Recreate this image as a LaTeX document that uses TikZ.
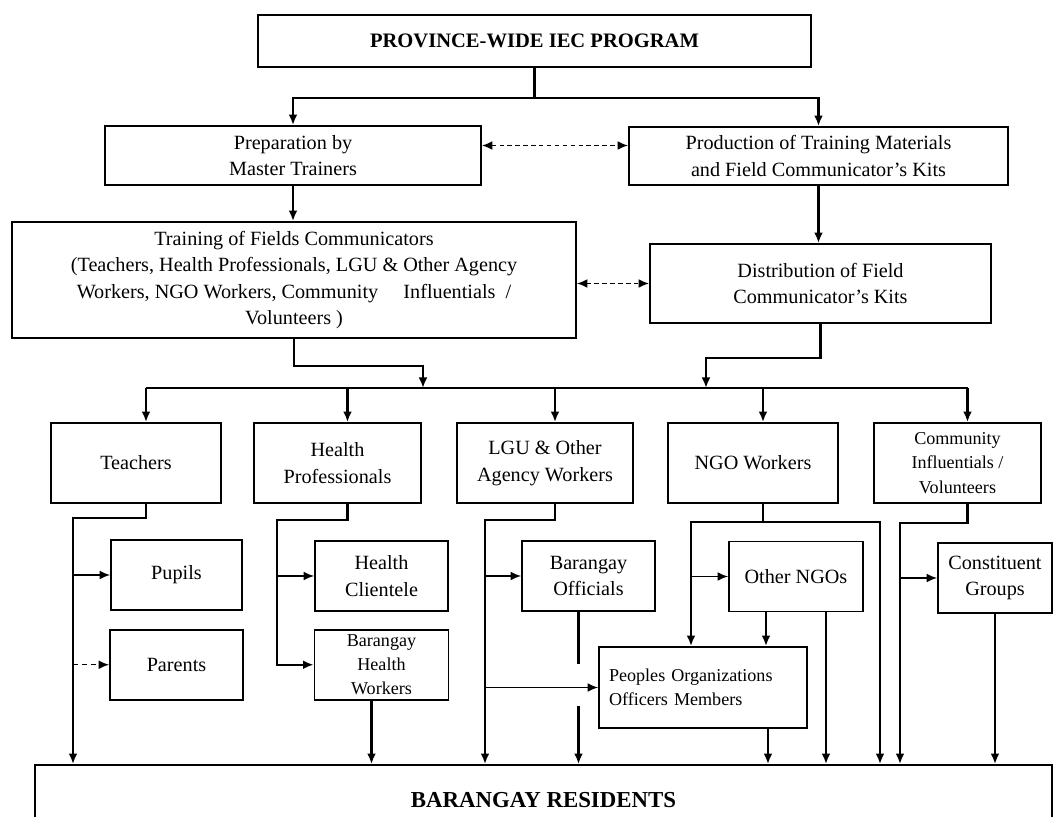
\documentclass[tikz,border=0pt]{standalone}
\usepackage{fontspec}
\setmainfont{Liberation Serif}
\usetikzlibrary{arrows.meta,positioning,calc}

\begin{document}
\begin{tikzpicture}[x=0.02cm,y=-0.02cm,
    every node/.style={font=\fontsize{11.5}{15}\selectfont},
    box/.style={draw,line width=1pt,align=center,inner sep=2pt},
    smalltext/.style={font=\fontsize{10.3}{13.8}\selectfont},
    rowbox/.style={box,minimum width=3.4cm,minimum height=1.6cm},
    subbox/.style={box,minimum width=2.66cm,minimum height=1.4cm},
    arr/.style={-{Latex[length=6pt,width=5pt]},line width=1.4pt},
    tarr/.style={arr,line width=0.8pt},
    link/.style={line width=1.4pt},
    dbl/.style={{Latex[length=6pt,width=5pt]}-{Latex[length=6pt,width=5pt]},line width=0.9pt,dash pattern=on 2.5pt off 2pt}
  ]
  \useasboundingbox (0,0) rectangle (1056,817);

  \node[box,minimum width=11.06cm,minimum height=1.04cm,font=\bfseries\fontsize{11.7}{14}\selectfont] (prog) at (534.5,41) {PROVINCE-WIDE IEC PROGRAM};
  \node[box,minimum width=7.52cm,minimum height=1.18cm] (prep) at (293,155.5) {Preparation by\\Master Trainers};
  \node[box,minimum width=7.58cm,minimum height=1.16cm] (prod) at (818.5,156) {Production of Training Materials\\and Field Communicator's Kits};
  \node[box,minimum width=11.28cm,minimum height=2.32cm] (train) at (294,280) {Training of Fields Communicators\\(Teachers, Health Professionals, LGU \& Other Agency\\Workers, NGO Workers, Community\quad\ Influentials\ \ /\\Volunteers )};
  \node[box,minimum width=6.82cm,minimum height=1.58cm] (dist) at (820.5,283.5) {Distribution of Field\\Communicator's Kits};

  \node[rowbox] (teach) at (136,463) {Teachers};
  \node[rowbox,minimum width=3.34cm] (hprof) at (337.5,463) {Health\\Professionals};
  \node[rowbox,minimum width=3.52cm] (lgu) at (545,463) {LGU \& Other\\Agency Workers};
  \node[rowbox] (ngo) at (753,463) {NGO Workers};
  \node[rowbox,minimum width=3.34cm,smalltext] (comm) at (957.5,463) {Community\\Influentials /\\Volunteers};

  \node[subbox,minimum width=2.62cm] (pupils) at (176.5,575) {Pupils};
  \node[subbox,below=0.36cm of pupils] (parents) {Parents};
  \node[subbox] (hcli) at (381.5,576) {Health\\Clientele};
  \node[subbox,minimum width=2.68cm,smalltext,below=0.34cm of hcli] (bhw) {Barangay\\Health\\Workers};
  \node[subbox] (offi) at (588.5,576) {Barangay\\Officials};
  \node[subbox,minimum width=2.68cm] (ongo) at (796,576.5) {Other NGOs};
  \node[subbox,minimum width=2.28cm] (cons) at (995,578) {Constituent\\Groups};
  \node[box,smalltext,align=left,text width=3.76cm,inner sep=0.2cm,minimum height=1.62cm] (porg) at (703,687.5) {Peoples Organizations\\Officers Members};

  \node[box,minimum width=20.34cm,minimum height=1.4cm,font=\bfseries\fontsize{13}{15}\selectfont] (res) at (543.5,800) {BARANGAY RESIDENTS};

  \coordinate (j1) at (423,388);
  \coordinate (j2) at (706,388);
  \coordinate (tb) at (73,518);
  \coordinate (hb) at (277,520);
  \coordinate (lb) at (485,520);
  \coordinate (nb) at (691,522);
  \coordinate (nr) at (880,522);
  \coordinate (cb) at (900,523);

  \draw[arr] (prog.south) -- ++(0,30) -| (prep.north);
  \draw[arr] (prog.south) -- ++(0,30) -| (prod.north);
  \draw[dbl] ([yshift=2mm]prep.east) -- ([yshift=2mm]prep.east -| prod.west);
  \draw[arr] (prep.south) -- (prep.south |- train.north);
  \draw[arr] (prod.south) -- (prod.south |- dist.north);
  \draw[dbl] (train.east |- dist.west) -- (dist.west);

  \draw[arr] (train.south) -- ++(0,27) -| (j1);
  \draw[arr] (dist.south) -- ++(0,34) -| (j2);
  \draw[link] ([xshift=2mm]teach.north |- j1) -- ([xshift=2mm]comm.north |- j1);
  \foreach \n in {teach,hprof,lgu,ngo,comm}
    \draw[arr] ([xshift=2mm]\n.north |- j1) -- ([xshift=2mm]\n.north);

  \draw[arr] ([xshift=2mm]teach.south) |- (tb) -- (tb |- res.north);
  \draw[tarr] (tb |- pupils.west) -- (pupils.west);
  \draw[tarr,densely dashed] (tb |- parents.west) -- (parents.west);

  \draw[arr] ([xshift=2mm]hprof.south) |- (hb) |- (bhw.west);
  \draw[tarr] (hb |- hcli.west) -- (hcli.west);
  \draw[arr] ([xshift=-2mm]bhw.south) -- ([xshift=-2mm]bhw.south |- res.north);

  \draw[arr] ([xshift=2mm]lgu.south) |- (lb) -- (lb |- res.north);
  \draw[tarr] (lb |- offi.west) -- (offi.west);
  \draw[tarr] (lb |- porg.west) -- (porg.west);
  \draw[link] ([xshift=-2mm]offi.south) -- ++(0,52);
  \draw[arr] ([xshift=-2mm]offi.south) ++(0,94) -- ([xshift=-2mm]offi.south |- res.north);

  \draw[arr] ([xshift=2mm]ngo.south) |- (nb) -- (nb |- porg.north);
  \draw[arr] ([xshift=2mm]ngo.south) |- (nr) -- (nr |- res.north);
  \draw[tarr] (nb |- ongo.west) -- (ongo.west);
  \draw[arr] ([xshift=-6mm]ongo.south) -- ([xshift=-6mm]ongo.south |- porg.north);
  \draw[arr] ([xshift=6mm]ongo.south) -- ([xshift=6mm]ongo.south |- res.north);
  \draw[arr] ([xshift=13mm]porg.south) -- ([xshift=13mm]porg.south |- res.north);

  \draw[arr] ([xshift=2mm]comm.south) |- (cb) -- (cb |- res.north);
  \draw[tarr] (cb |- cons.west) -- (cons.west);
  \draw[arr] (cons.south) -- (cons.south |- res.north);
\end{tikzpicture}
\end{document}
